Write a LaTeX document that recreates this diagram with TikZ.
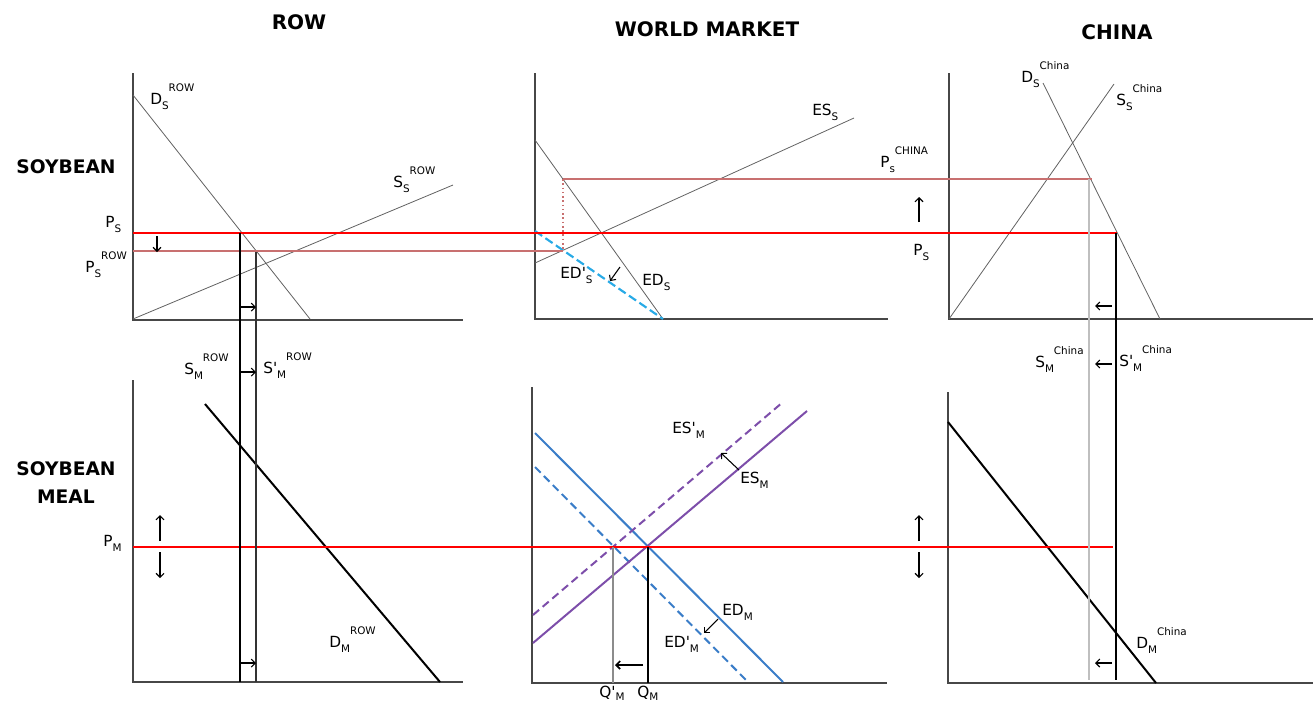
\documentclass[tikz,border=0pt]{standalone}
\usepackage{fontspec}
\setmainfont{DejaVu Sans}[Ligatures=TeXOff]
\usetikzlibrary{arrows.meta}
\definecolor{pline}{RGB}{200,112,112}
\definecolor{edblue}{RGB}{58,125,200}
\definecolor{espurple}{RGB}{125,78,170}
\definecolor{skyblue}{RGB}{40,170,230}
% label with subscript and raised superscript
\newcommand{\econ}[3]{#1\raisebox{-4pt}{\fontsize{7.8}{8}\selectfont #2}\raisebox{9.5pt}{\fontsize{7.8}{8}\selectfont #3}}
\tikzset{
    axis/.style={draw=black!72,line width=1pt},
    curve/.style={draw=black!62,line width=0.6pt},
    heavy/.style={draw=black,line width=1.5pt},
    redline/.style={draw=red,line width=2.2pt},
    pinkline/.style={draw=pline,line width=1.8pt},
    lbl/.style={anchor=base west,inner sep=0pt,font=\fontsize{11.5}{13}\selectfont},
    title/.style={inner sep=0pt,font=\bfseries\fontsize{15}{18}\selectfont},
    rowlabel/.style={inner sep=0pt,align=center,font=\bfseries\fontsize{14}{21}\selectfont},
    tip/.style={-{Straight Barb[length=3pt,width=6pt]},line width=0.8pt}
}
\begin{document}
\begin{tikzpicture}[x=0.75pt,y=-0.75pt]
    \useasboundingbox (0,0) rectangle (1315,704);
    % titles
        \node[title] (tRow) at (299,22) {ROW};
        \node[title] (tWorld) at (707,29) {WORLD MARKET};
        \node[title] (tChina) at (1117,32) {CHINA};
        \node[rowlabel] (rSoy) at (66,167) {SOYBEAN};
        \node[rowlabel] (rMeal) at (66,483) {SOYBEAN\\MEAL};
    % axes
        \foreach \x/\b/\t/\e in {133/320/73/463,535/319/73/888,949/319/73/1313,
                                 133/682/380/463,532/683/387/887,948/683/392/1313}{
            \draw[axis] (\x,\t) -- (\x,\b) -- (\e,\b);
        }
    % soybean curves
        \draw[curve] (133,95) -- (310,319);
        \draw[curve] (133,319) -- (453,185);
        \draw[curve] (535,140) -- (663,319);
        \draw[curve] (535,263) -- (854,118);
        \draw[skyblue,line width=1.6pt,dash pattern=on 6.5pt off 3pt] (535,231) -- (663,319);
        \draw[curve] (1043,83) -- (1160,319);
        \draw[curve] (949,319) -- (1114,84);
    % meal curves
        \draw[heavy] (205,404) -- (440,682);
        \draw[heavy] (948,422) -- (1156,683);
        \draw[edblue,line width=1.5pt] (535,433) -- (783,682);
        \draw[edblue,line width=1.5pt,dash pattern=on 6pt off 3.5pt] (535,467) -- (748,682);
        \draw[espurple,line width=1.5pt] (533,643) -- (807,411);
        \draw[espurple,line width=1.5pt,dash pattern=on 6pt off 3.5pt] (533,615) -- (783,402);
    % prices
        \draw[pinkline] (133,251) -- (563,251);
        \draw[pinkline] (563,179) -- (1092,179);
        \draw[pline,line width=1.2pt,dotted] (563,179) -- (563,251);
        \draw[redline] (133,233) -- (1117,233);
        \draw[red,line width=1.4pt] (133,547) -- (1113,547);
    % supply of meal
        \draw[black,line width=1.8pt] (240,233) -- (240,682);
        \draw[black!80,line width=0.8pt] (256,252) -- (256,682);
        \draw[black!25,line width=1.5pt] (1089,179) -- (1089,680);
        \draw[black,line width=1.8pt] (1116,233) -- (1116,680);
        \draw[black!45,line width=1.1pt] (613,547) -- (613,683);
        \draw[black,line width=1.1pt] (648,547) -- (648,683);
    % shifts
        \foreach \y in {307,372,663}{
            \draw[tip] (241,\y) -- (256,\y);
        }
        \foreach \y in {306,364,663}{
            \draw[tip] (1112,\y) -- (1095,\y);
        }
        \foreach \x in {160,919}{
            \draw[tip] (\x,541) -- (\x,515);
            \draw[tip] (\x,552) -- (\x,578);
        }
        \draw[tip] (157,236) -- (157,252);
        \draw[tip] (919,222) -- (919,197);
        \draw[tip] (620,267) -- (610,281);
        \draw[tip,line width=1.3pt] (643,665) -- (615,665);
        \draw[tip] (739,470) -- (721,453);
        \draw[tip] (718,619) -- (704,633);
    % labels
        \node[lbl] (DsRow) at (150,104) {\econ{D}{S}{ROW}};
        \node[lbl] (SsRow) at (393,187) {\econ{S}{S}{ROW}};
        \node[lbl] (Ps1) at (105,227) {\econ{P}{S}{}};
        \node[lbl] (PsRow) at (85,272) {\econ{P}{S}{ROW}};
        \node[lbl] (EDps) at (560,278) {\econ{ED'}{S}{}};
        \node[lbl] (EDs) at (642,285) {\econ{ED}{S}{}};
        \node[lbl] (ESs) at (812,115) {\econ{ES}{S}{}};
        \node[lbl] (PsChina) at (880,167) {\econ{P}{s}{CHINA}};
        \node[lbl] (Ps2) at (913,255) {\econ{P}{S}{}};
        \node[lbl] (DsChina) at (1021,82) {\econ{D}{S}{China}};
        \node[lbl] (SsChina) at (1116,105) {\econ{S}{S}{China}};
        \node[lbl] (SmRow) at (184,374) {\econ{S}{M}{ROW}};
        \node[lbl] (SpmRow) at (263,373) {\econ{S'}{M}{ROW}};
        \node[lbl] (Pm) at (103,546) {\econ{P}{M}{}};
        \node[lbl] (DmRow) at (329,647) {\econ{D}{M}{ROW}};
        \node[lbl] (ESpm) at (672,433) {\econ{ES'}{M}{}};
        \node[lbl] (ESm) at (740,483) {\econ{ES}{M}{}};
        \node[lbl] (EDm) at (722,615) {\econ{ED}{M}{}};
        \node[lbl] (EDpm) at (664,647) {\econ{ED'}{M}{}};
        \node[lbl] (Qpm) at (599,697) {Q'\raisebox{-2.5pt}{\fontsize{7.8}{8}\selectfont M}};
        \node[lbl] (Qm) at (637,697) {Q\raisebox{-2.5pt}{\fontsize{7.8}{8}\selectfont M}};
        \node[lbl] (SmChina) at (1035,367) {\econ{S}{M}{China}};
        \node[lbl] (SpmChina) at (1119,366) {\econ{S'}{M}{China}};
        \node[lbl] (DmChina) at (1136,648) {\econ{D}{M}{China}};
\end{tikzpicture}
\end{document}
